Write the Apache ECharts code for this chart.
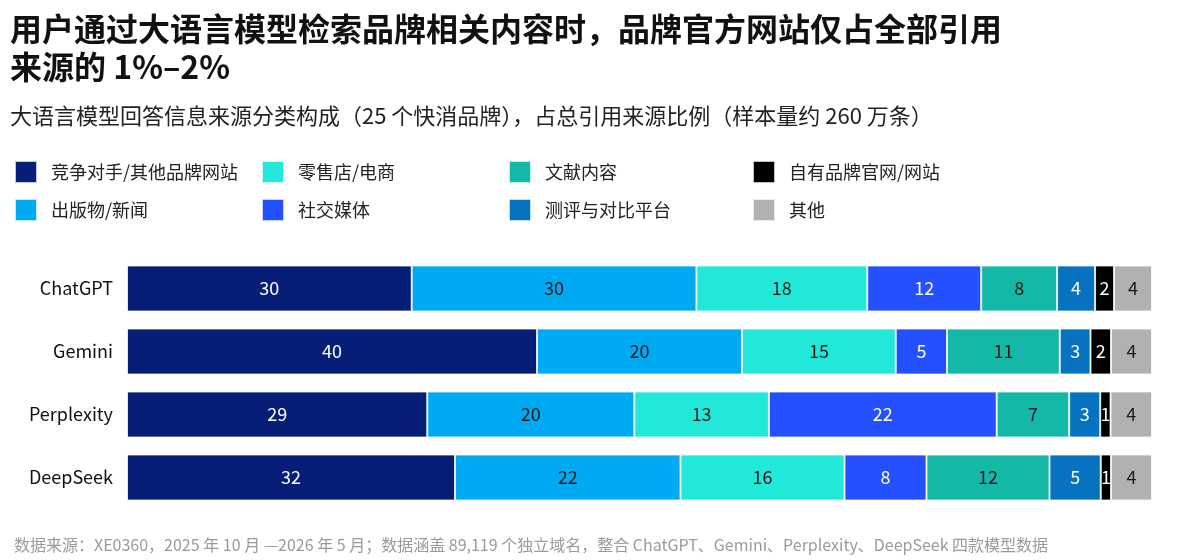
<!DOCTYPE html>
<html>
<head>
<meta charset="utf-8">
<script src="https://cdn.jsdelivr.net/npm/echarts@6/dist/echarts.min.js"></script>
<style>html,body{margin:0;padding:0;background:#fff}#c{width:1178px;height:560px}</style>
</head>
<body>
<div id="c"></div>
<script>
var models = ['ChatGPT', 'Gemini', 'Perplexity', 'DeepSeek'];
var seriesNames = ['竞争对手/其他品牌网站', '出版物/新闻', '零售店/电商', '社交媒体', '文献内容', '测评与对比平台', '自有品牌官网/网站', '其他'];
var competitor = [30, 40, 29, 32];
var publication = [30, 20, 20, 22];
var retail = [18, 15, 13, 16];
var social = [12, 5, 22, 8];
var literature = [8, 11, 7, 12];
var review = [4, 3, 3, 5];
var ownSite = [2, 2, 1, 1];
var other = [4, 4, 4, 4];

var allValues = [competitor, publication, retail, social, literature, review, ownSite, other];
var colors = ['#061E78', '#00AAF2', '#22E8DA', '#2450FF', '#13B8A7', '#0773C0', '#000000', '#B1B1B1'];
var labelColors = ['#ffffff', '#1a1a1a', '#1a1a1a', '#ffffff', '#1a1a1a', '#ffffff', '#ffffff', '#1a1a1a'];

var rowTotals = models.map(function (m, i) {
  var s = 0;
  allValues.forEach(function (arr) { s += arr[i]; });
  return s;
});

var FONT = '"Noto Sans CJK SC", "Noto Sans", sans-serif';

var series = seriesNames.map(function (name, si) {
  return {
    name: name,
    type: 'bar',
    stack: 'total',
    barWidth: 46,
    itemStyle: { color: colors[si], borderColor: 'rgba(255,255,255,0.75)', borderWidth: 1 },
    label: {
      show: true,
      position: 'inside',
      color: labelColors[si],
      fontSize: 18,
      fontFamily: FONT,
      formatter: function (p) { return String(allValues[si][p.dataIndex]); }
    },
    data: allValues[si].map(function (v, i) { return v / rowTotals[i] * 100; })
  };
});

// legend layout: column-major in reference (col1: 0,1; col2: 2,3; ...)
var legendCols = [14, 261, 508, 752];
var legendRows = [160, 198];
var legends = seriesNames.map(function (name, si) {
  var col = Math.floor(si / 2), row = si % 2;
  return {
    data: [name],
    left: legendCols[col],
    top: legendRows[row],
    padding: 0,
    icon: 'rect',
    itemWidth: 22,
    itemHeight: 22,
    textStyle: { fontSize: 18, color: '#222', fontFamily: FONT, padding: [0, 0, 0, 9] }
  };
});

var chart = echarts.init(document.getElementById('c'));
chart.setOption({
  backgroundColor: '#ffffff',
  animation: false,
  title: [
    {
      text: '用户通过大语言模型检索品牌相关内容时，品牌官方网站仅占全部引用\n来源的 1%–2%',
      left: 10, top: 10, padding: 0,
      textStyle: { fontSize: 32, fontWeight: 'bold', color: '#111', lineHeight: 38, fontFamily: FONT }
    },
    {
      text: '大语言模型回答信息来源分类构成（25 个快消品牌），占总引用来源比例（样本量约 260 万条）',
      left: 10, top: 103, padding: 0,
      textStyle: { fontSize: 22, fontWeight: 'normal', color: '#222', lineHeight: 26, fontFamily: FONT }
    },
    {
      text: '数据来源：XE0360，2025 年 10 月 —2026 年 5 月；数据涵盖 89,119 个独立域名，整合 ChatGPT、Gemini、Perplexity、DeepSeek 四款模型数据',
      left: 14, top: 536, padding: 0,
      textStyle: { fontSize: 16, fontWeight: 'normal', color: '#9a9a9a', lineHeight: 18, fontFamily: FONT }
    }
  ],
  legend: legends,
  grid: { left: 127, right: 26, top: 257, height: 252, containLabel: false },
  xAxis: { type: 'value', min: 0, max: 100, show: false },
  yAxis: {
    type: 'category',
    data: models,
    inverse: true,
    axisLine: { show: false },
    axisTick: { show: false },
    axisLabel: { fontSize: 18, color: '#111', margin: 14, fontFamily: FONT }
  },
  series: series
});
</script>
</body>
</html>
